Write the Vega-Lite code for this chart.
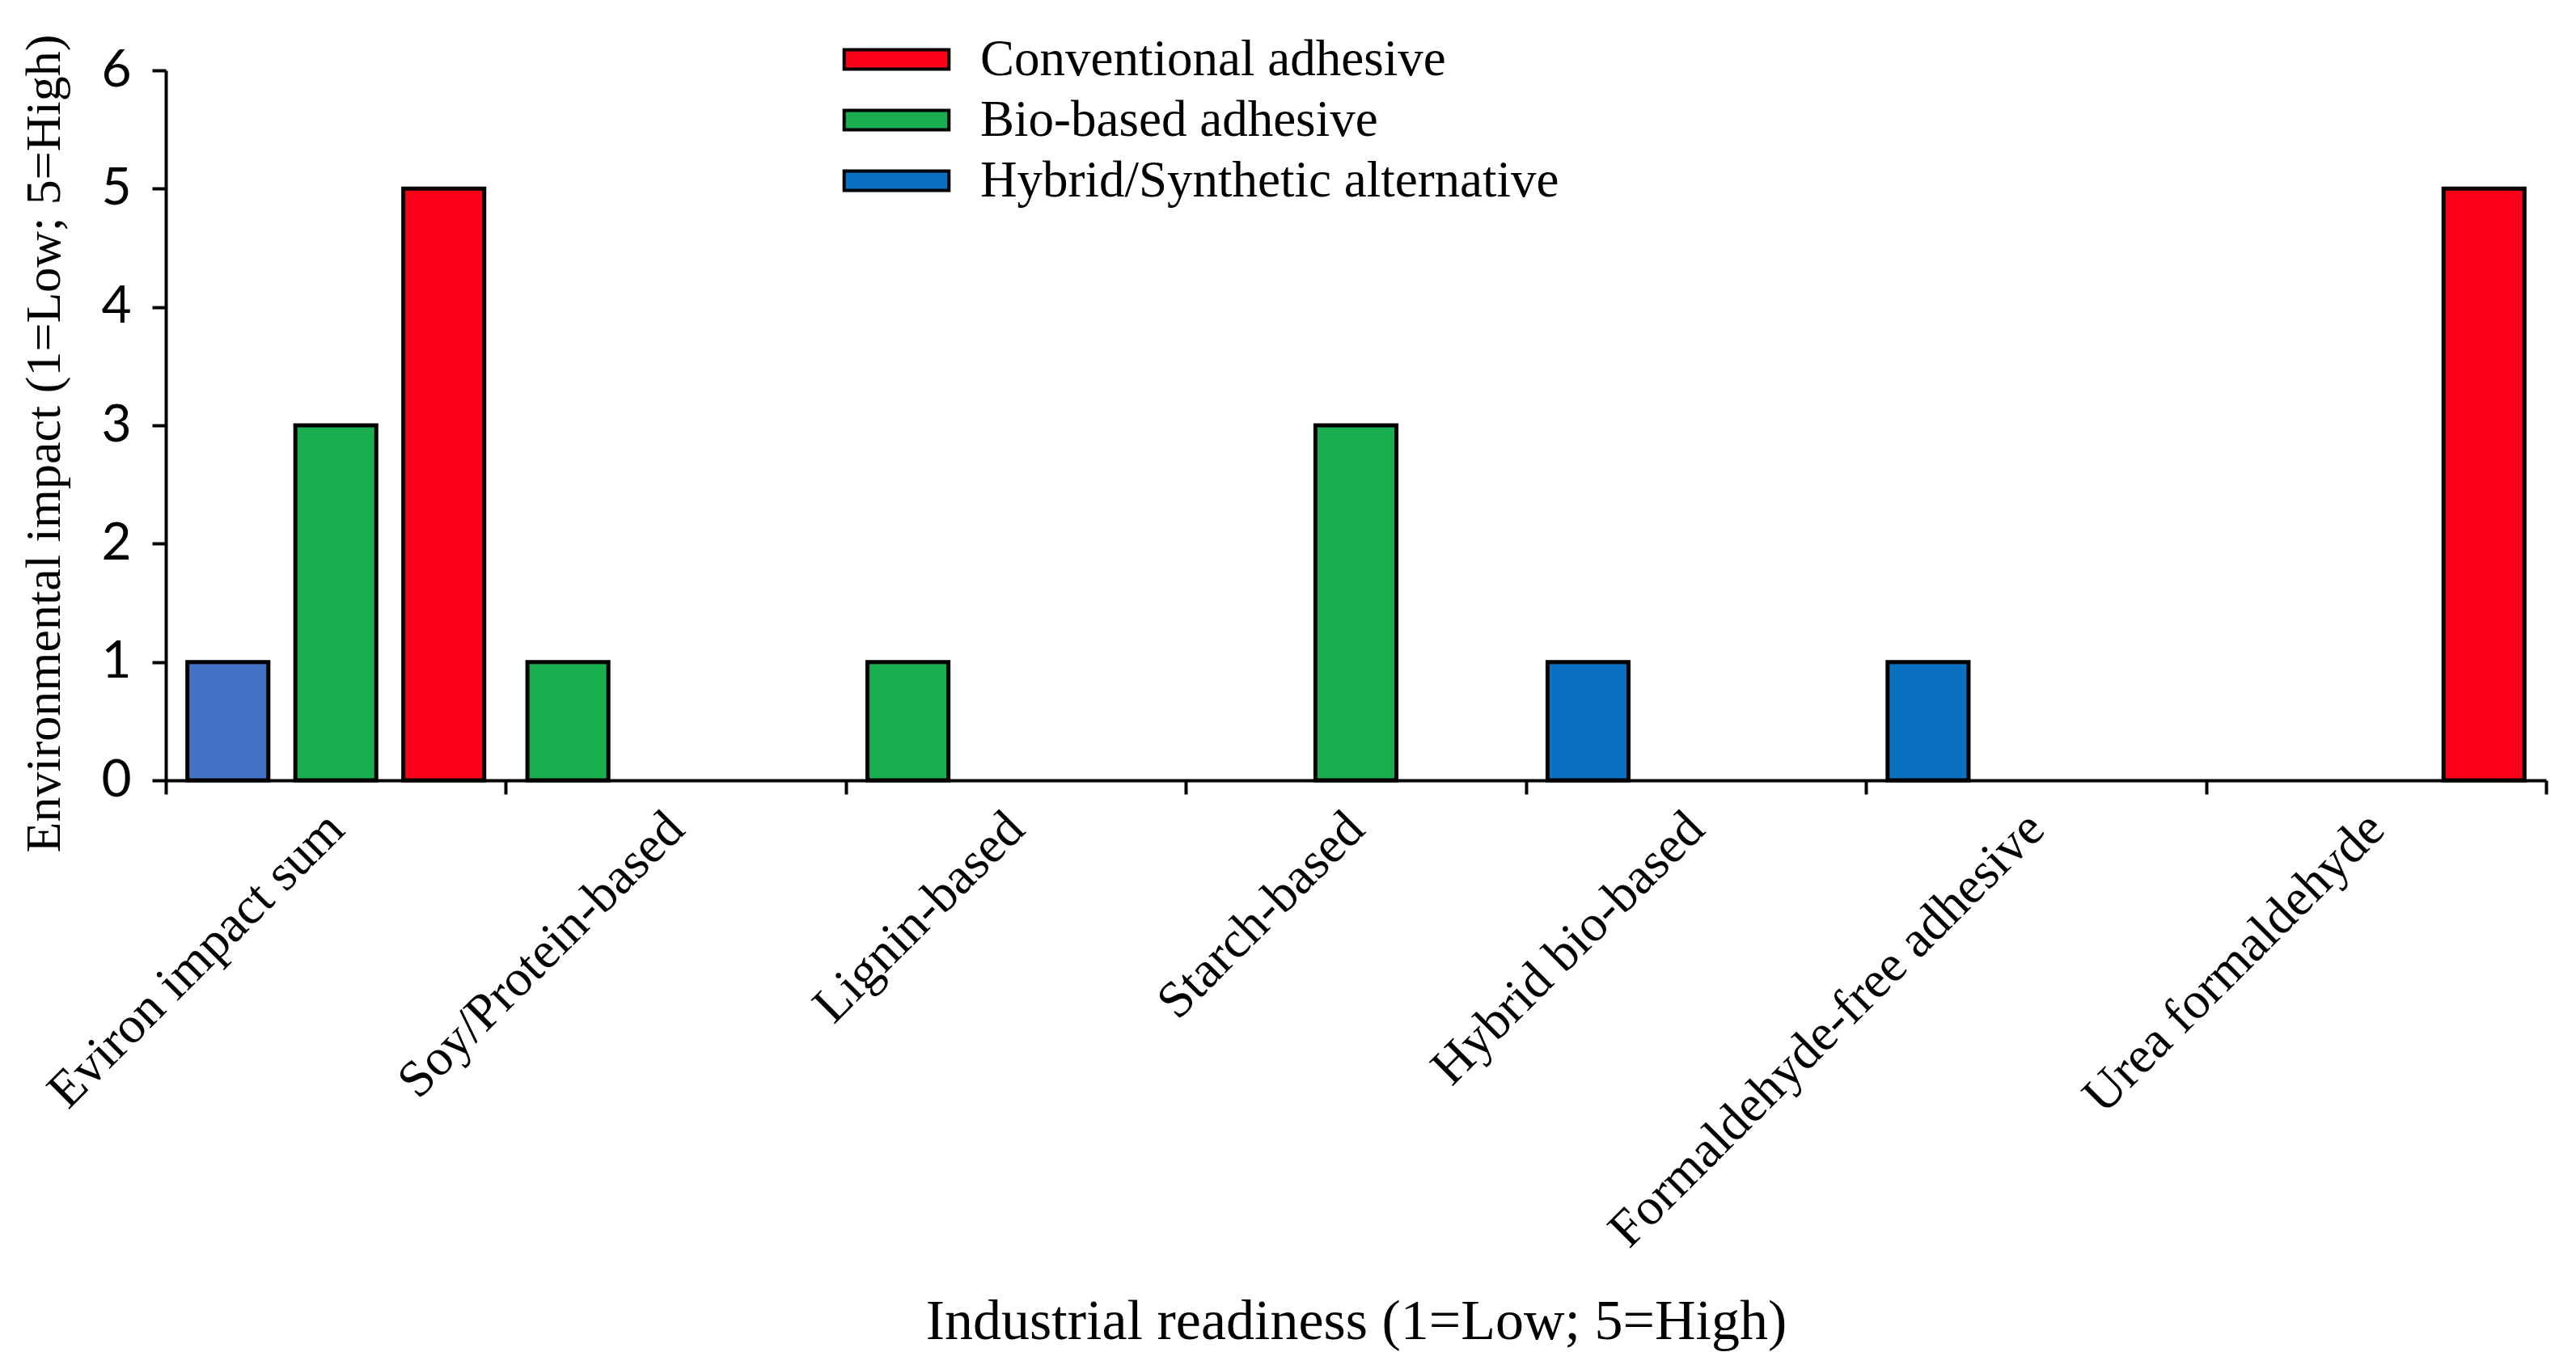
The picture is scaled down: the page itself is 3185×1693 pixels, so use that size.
{
  "$schema": "https://vega.github.io/schema/vega-lite/v6.json",
  "width": 2943,
  "height": 878,
  "autosize": {"type": "none"},
  "padding": {"left": 205, "top": 87, "right": 37, "bottom": 728},
  "background": "white",
  "config": {
    "view": {"stroke": null},
    "axis": {"grid": false, "domainColor": "black", "tickColor": "black", "labelColor": "black", "titleColor": "black"}
  },
  "datasets": {
    "impacts": [
      {"material": "Eviron impact sum", "slot": 1, "series": "Hybrid (sum)", "impact": 1},
      {"material": "Eviron impact sum", "slot": 2, "series": "Bio-based adhesive", "impact": 3},
      {"material": "Eviron impact sum", "slot": 3, "series": "Conventional adhesive", "impact": 5},
      {"material": "Soy/Protein-based", "slot": 1, "series": "Bio-based adhesive", "impact": 1},
      {"material": "Lignin-based", "slot": 1, "series": "Bio-based adhesive", "impact": 1},
      {"material": "Starch-based", "slot": 2, "series": "Bio-based adhesive", "impact": 3},
      {"material": "Hybrid bio-based", "slot": 1, "series": "Hybrid/Synthetic alternative", "impact": 1},
      {"material": "Formaldehyde-free adhesive", "slot": 1, "series": "Hybrid/Synthetic alternative", "impact": 1},
      {"material": "Urea formaldehyde", "slot": 3, "series": "Conventional adhesive", "impact": 5}
    ],
    "edges": [
      {"edge": 0}, {"edge": 1}, {"edge": 2}, {"edge": 3},
      {"edge": 4}, {"edge": 5}, {"edge": 6}, {"edge": 7}
    ]
  },
  "layer": [
    {
      "data": {"name": "impacts"},
      "mark": {"type": "bar", "stroke": "black", "strokeWidth": 5},
      "encoding": {
        "x": {
          "field": "material",
          "type": "nominal",
          "sort": ["Eviron impact sum", "Soy/Protein-based", "Lignin-based", "Starch-based", "Hybrid bio-based", "Formaldehyde-free adhesive", "Urea formaldehyde"],
          "scale": {"paddingInner": 0, "paddingOuter": 0},
          "axis": {
            "orient": "bottom",
            "ticks": false,
            "domainWidth": 4,
            "labelAngle": -45,
            "labelAlign": "right",
            "labelBaseline": "middle",
            "labelFont": "Liberation Serif",
            "labelFontSize": 64,
            "labelPadding": 50,
            "labelLimit": 3000,
            "title": "Industrial readiness (1=Low; 5=High)",
            "titleFont": "Liberation Serif",
            "titleFontSize": 70,
            "titleFontWeight": "normal",
            "titleBaseline": "alphabetic",
            "titleY": 690
          }
        },
        "xOffset": {
          "field": "slot",
          "type": "ordinal",
          "scale": {"domain": [1, 2, 3], "paddingInner": 0.25, "paddingOuter": 0.2}
        },
        "y": {
          "field": "impact",
          "type": "quantitative",
          "scale": {"domain": [0, 6]},
          "axis": {
            "values": [0, 1, 2, 3, 4, 5, 6],
            "domainWidth": 4,
            "tickWidth": 4,
            "tickSize": 17,
            "labelFont": "Lato",
            "labelFontSize": 64,
            "labelPadding": 26,
            "title": "Environmental impact (1=Low; 5=High)",
            "titleFont": "Liberation Serif",
            "titleFontSize": 62,
            "titleFontWeight": "normal",
            "titleBaseline": "alphabetic",
            "titleAngle": -90,
            "titleAlign": "center",
            "titleX": -132,
            "titleY": 461
          }
        },
        "color": {
          "field": "series",
          "type": "nominal",
          "scale": {
            "domain": ["Conventional adhesive", "Bio-based adhesive", "Hybrid/Synthetic alternative", "Hybrid (sum)"],
            "range": ["#FF0019", "#19AF50", "#0A70C0", "#4472C4"]
          },
          "legend": {
            "values": ["Conventional adhesive", "Bio-based adhesive", "Hybrid/Synthetic alternative"],
            "orient": "none",
            "legendX": 872,
            "legendY": -45,
            "padding": 0,
            "title": null,
            "labelFont": "Liberation Serif",
            "labelFontSize": 63,
            "labelColor": "black",
            "labelOffset": 72,
            "labelLimit": 2000,
            "rowPadding": 11,
            "symbolType": "M-2.7,-0.5H2.7V0.5H-2.7Z",
            "symbolSize": 2304,
            "symbolStrokeWidth": 4,
            "encode": {
              "symbols": {"update": {"stroke": {"value": "#2F5597"}, "strokeWidth": {"value": 5}, "opacity": {"value": 1}}}
            }
          }
        }
      }
    },
    {
      "data": {"name": "edges"},
      "mark": {"type": "point", "opacity": 0},
      "encoding": {
        "x": {
          "field": "edge",
          "type": "ordinal",
          "scale": {"type": "point", "padding": 0},
          "axis": {
            "orient": "bottom",
            "labels": false,
            "domain": false,
            "ticks": true,
            "tickSize": 17,
            "tickWidth": 4,
            "title": null
          }
        }
      }
    }
  ],
  "resolve": {"scale": {"x": "independent"}, "axis": {"x": "independent"}}
}
